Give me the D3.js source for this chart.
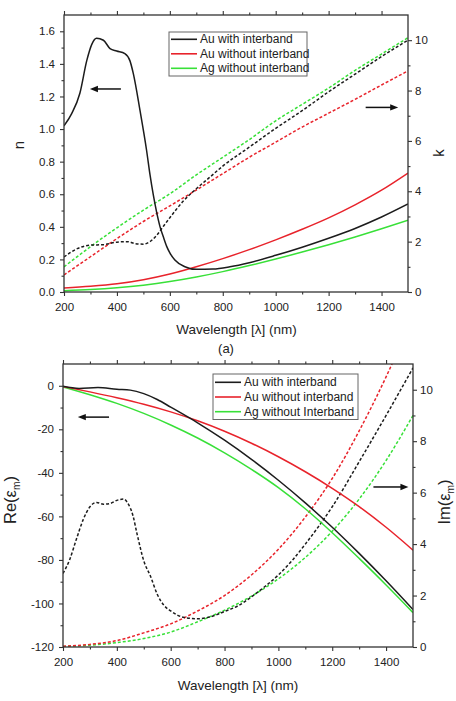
<!DOCTYPE html>
<html><head><meta charset="utf-8">
<script src="https://cdn.jsdelivr.net/npm/d3@7"></script>
<style>
body{margin:0;background:#fff}
svg{display:block}
text{font-family:"Liberation Sans",Arial,sans-serif;fill:#222}
</style>
</head><body>
<svg id="chart" width="456" height="701"></svg>
<script>
// ---------- data ----------
const xDomain = [200, 1500];
const xMajorTicks = [200, 400, 600, 800, 1000, 1200, 1400];
const xMinorTicks = [300, 500, 700, 900, 1100, 1300];
const nTicks = [0, 0.2, 0.4, 0.6, 0.8, 1.0, 1.2, 1.4, 1.6];
const nMinorTicks = [0.1, 0.3, 0.5, 0.7, 0.9, 1.1, 1.3, 1.5];
const kTicks = [0, 2, 4, 6, 8, 10];
const kMinorTicks = [1, 3, 5, 7, 9];
const reTicks = [-120, -100, -80, -60, -40, -20, 0];
const reMinorTicks = [-110, -90, -70, -50, -30, -10];
const imTicks = [0, 2, 4, 6, 8, 10];
const imMinorTicks = [1, 3, 5, 7, 9];
const legendA = ["Au with interband", "Au without interband", "Ag without interband"];
const legendB = ["Au with interband", "Au without interband", "Ag without Interband"];
const xTitle = "Wavelength [\u03bb] (nm)";

// (a) refractive index n (left axis) — solid
const nAuInter = [[200,1.02],[229,1.095],[260,1.22],[286,1.42],[305,1.52],[323,1.557],[349,1.545],[374,1.494],[399,1.479],[430,1.463],[449,1.42],[462,1.34],[487,1.116],[512,0.87],[525,0.72],[537,0.6],[550,0.49],[563,0.40],[575,0.34],[588,0.28],[600,0.24],[619,0.196],[657,0.155],[700,0.139],[763,0.141],[827,0.155],[900,0.18],[1000,0.225],[1100,0.275],[1200,0.33],[1300,0.39],[1400,0.46],[1500,0.54]];
const nAuFree = [[200,0.025],[300,0.035],[400,0.05],[500,0.075],[600,0.11],[700,0.155],[800,0.205],[900,0.26],[1000,0.32],[1100,0.385],[1200,0.455],[1300,0.535],[1400,0.625],[1500,0.73]];
const nAgFree = [[200,0.008],[300,0.015],[400,0.026],[500,0.042],[600,0.064],[700,0.092],[800,0.125],[900,0.162],[1000,0.202],[1100,0.245],[1200,0.29],[1300,0.338],[1400,0.388],[1500,0.44]];
// (a) extinction k (right axis) — dashed
const kAuInter = [[200,1.39],[250,1.72],[300,1.86],[350,1.88],[400,1.98],[440,2.0],[470,1.92],[500,1.9],[525,2.0],[550,2.25],[575,2.6],[600,2.95],[650,3.6],[700,4.1],[750,4.55],[800,5.0],[900,5.75],[1000,6.5],[1100,7.2],[1200,7.95],[1300,8.65],[1400,9.35],[1500,10.0]];
const kAuFree = [[200,0.68],[300,1.4],[400,2.12],[500,2.8],[600,3.42],[700,4.05],[800,4.7],[900,5.35],[1000,5.95],[1100,6.55],[1200,7.1],[1300,7.65],[1400,8.22],[1500,8.78]];
const kAgFree = [[200,1.0],[300,1.8],[400,2.55],[500,3.25],[600,3.9],[700,4.65],[800,5.35],[900,6.05],[1000,6.8],[1100,7.45],[1200,8.1],[1300,8.8],[1400,9.45],[1500,10.1]];
// (b) Re(eps) (left axis) — solid
const reAuInter = [[200,-0.2],[260,-1.2],[330,-0.8],[400,-1.6],[450,-2.0],[500,-3.6],[550,-6.3],[600,-9.8],[700,-17],[800,-25],[900,-33.8],[1000,-43.4],[1100,-53.8],[1200,-65],[1300,-77],[1400,-89.6],[1500,-102.8]];
const reAuFree = [[200,-0.3],[300,-2.8],[400,-5.5],[500,-8.5],[600,-12],[700,-16.1],[800,-20.9],[900,-26.4],[1000,-32.6],[1100,-39.5],[1200,-47.1],[1300,-55.5],[1400,-65],[1500,-75.5]];
const reAgFree = [[200,-0.5],[300,-4.1],[400,-8.1],[500,-12.7],[600,-18],[700,-24],[800,-30.8],[900,-38.4],[1000,-46.8],[1100,-56.5],[1200,-67.5],[1300,-79.3],[1400,-91.5],[1500,-104.2]];
// (b) Im(eps) (right axis) — dashed
const imAuInter = [[200,2.86],[225,3.4],[250,4.2],[275,4.95],[300,5.45],[325,5.62],[350,5.55],[375,5.58],[400,5.7],[425,5.75],[440,5.6],[460,5.1],[475,4.4],[500,3.35],[525,2.75],[550,2.05],[575,1.62],[600,1.4],[650,1.15],[700,1.1],[750,1.18],[800,1.38],[850,1.6],[900,1.95],[950,2.35],[1000,2.8],[1050,3.35],[1100,4.0],[1200,5.45],[1300,7.2],[1400,9.0],[1500,10.85]];
const imAuFree = [[200,0.03],[300,0.1],[400,0.25],[500,0.55],[600,0.9],[700,1.4],[800,2.0],[900,2.8],[1000,3.8],[1100,5.05],[1200,6.55],[1300,8.4],[1400,10.5],[1450,11.65]];
const imAgFree = [[200,0.02],[300,0.07],[400,0.17],[500,0.33],[600,0.58],[700,0.98],[800,1.43],[900,1.98],[1000,2.65],[1100,3.48],[1200,4.5],[1300,5.75],[1400,7.25],[1500,9.0]];

// ---------- style ----------
const C_BLACK = "#1c1c1c", C_RED = "#e8232b", C_GREEN = "#38e038";
const AX = "#333";

const svg = d3.select("#chart");

function drawPanel(p) {
  const x = d3.scaleLinear().domain(xDomain).range([p.x0, p.x1]);
  const yL = d3.scaleLinear().domain(p.leftDomain).range([p.yB, p.yT]);
  const yR = d3.scaleLinear().domain(p.rightDomain).range([p.yB, p.yT]);
  const g = svg.append("g");

  const clipId = "clip-" + p.key;
  svg.append("clipPath").attr("id", clipId).append("rect")
    .attr("x", p.x0).attr("y", p.yT).attr("width", p.x1 - p.x0).attr("height", p.yB - p.yT);

  const lg = g.append("g").attr("clip-path", `url(#${clipId})`);
  p.series.forEach(s => {
    const sc = s.axis === "L" ? yL : yR;
    lg.append("path").datum(s.data)
      .attr("d", d3.line().x(d => x(d[0])).y(d => sc(d[1])).curve(d3.curveMonotoneX))
      .attr("fill", "none").attr("stroke", s.color).attr("stroke-width", 1.5)
      .attr("stroke-dasharray", s.dash ? "3,2" : null);
  });

  function ax(gen, tr, major, minor, fmt, pad) {
    const a = g.append("g").attr("transform", tr)
      .call(gen.tickValues(major).tickSize(4).tickPadding(pad).tickFormat(fmt).tickSizeOuter(0));
    a.select(".domain").remove();
    a.selectAll("line").attr("stroke", AX).attr("stroke-width", 1.1);
    a.selectAll("text").attr("font-size", "11.5px").attr("fill", "#222")
      .attr("font-family", '"Liberation Sans", Arial, sans-serif');
    const b = g.append("g").attr("transform", tr)
      .call(gen.tickValues(minor).tickSize(2.5).tickFormat("").tickSizeOuter(0));
    b.select(".domain").remove();
    b.selectAll("line").attr("stroke", AX).attr("stroke-width", 1.1);
    b.selectAll("text").remove();
  }
  ax(d3.axisBottom(x), `translate(0,${p.yB})`, xMajorTicks, xMinorTicks, d => d, 6.5);
  ax(d3.axisTop(x), `translate(0,${p.yT})`, xMajorTicks, xMinorTicks, () => "", 3);
  ax(d3.axisLeft(yL), `translate(${p.x0},0)`, p.leftTicks, p.leftMinor, p.leftFmt, 5);
  ax(d3.axisRight(yR), `translate(${p.x1},0)`, p.rightTicks, p.rightMinor, d => d, 3);

  g.append("rect").attr("x", p.x0).attr("y", p.yT).attr("width", p.x1 - p.x0).attr("height", p.yB - p.yT)
    .attr("fill", "none").attr("stroke", AX).attr("stroke-width", 1.3);

  g.append("text").attr("x", p.titleX).attr("y", p.titleY).attr("text-anchor", "middle")
    .attr("font-size", "13.5px").text(xTitle);

  const L = p.legend;
  g.append("rect").attr("x", L.x).attr("y", L.y).attr("width", L.w).attr("height", L.h)
    .attr("fill", "#fff").attr("stroke", "#666").attr("stroke-width", 1);
  L.labels.forEach((t, i) => {
    const yy = L.y + L.row0 + i * L.dy;
    g.append("line").attr("x1", L.x + 2).attr("x2", L.x + 28).attr("y1", yy).attr("y2", yy)
      .attr("stroke", [C_BLACK, C_RED, C_GREEN][i]).attr("stroke-width", 1.6);
    g.append("text").attr("x", L.x + 31).attr("y", yy + 4).attr("font-size", "12px").text(t);
  });

  p.arrows.forEach(a => {
    const sc = a.axis === "L" ? yL : yR;
    const xa = x(a.from), xb = x(a.to), yy = sc(a.v);
    const dir = xb > xa ? 1 : -1;
    g.append("line").attr("x1", xa).attr("x2", xb - dir * 5).attr("y1", yy).attr("y2", yy)
      .attr("stroke", "#111").attr("stroke-width", 1.5);
    g.append("path").attr("d", `M${xb},${yy} L${xb - dir * 8},${yy - 3.2} L${xb - dir * 8},${yy + 3.2} Z`)
      .attr("fill", "#111");
  });
}

drawPanel({
  key: "a", x0: 64, x1: 408, yT: 15, yB: 292,
  leftDomain: [0, 1.7], rightDomain: [0, 11],
  leftTicks: nTicks, leftMinor: nMinorTicks, leftFmt: d3.format(".1f"),
  rightTicks: kTicks, rightMinor: kMinorTicks,
  titleX: 236.5, titleY: 334,
  series: [
    {data: kAgFree, axis: "R", color: C_GREEN, dash: true},
    {data: kAuFree, axis: "R", color: C_RED, dash: true},
    {data: kAuInter, axis: "R", color: C_BLACK, dash: true},
    {data: nAgFree, axis: "L", color: C_GREEN},
    {data: nAuFree, axis: "L", color: C_RED},
    {data: nAuInter, axis: "L", color: C_BLACK}
  ],
  legend: {x: 169, y: 32, w: 138, h: 44, row0: 7.3, dy: 14.5, labels: legendA},
  arrows: [
    {from: 415, to: 298, v: 1.246, axis: "L"},
    {from: 1340, to: 1463, v: 7.33, axis: "R"}
  ]
});

drawPanel({
  key: "b", x0: 63, x1: 413, yT: 364, yB: 647,
  leftDomain: [-120, 10], rightDomain: [0, 11],
  leftTicks: reTicks, leftMinor: reMinorTicks, leftFmt: d => String(d),
  rightTicks: imTicks, rightMinor: imMinorTicks,
  titleX: 238, titleY: 690,
  series: [
    {data: imAgFree, axis: "R", color: C_GREEN, dash: true},
    {data: imAuFree, axis: "R", color: C_RED, dash: true},
    {data: imAuInter, axis: "R", color: C_BLACK, dash: true},
    {data: reAgFree, axis: "L", color: C_GREEN},
    {data: reAuFree, axis: "L", color: C_RED},
    {data: reAuInter, axis: "L", color: C_BLACK}
  ],
  legend: {x: 213, y: 374, w: 145, h: 45.5, row0: 8.3, dy: 14.7, labels: legendB},
  arrows: [
    {from: 371, to: 255, v: -14.4, axis: "L"},
    {from: 1353, to: 1483, v: 6.22, axis: "R"}
  ]
});

function rotLabel(x, y, parts, size) {
  const t = svg.append("text").attr("transform", `translate(${x},${y}) rotate(-90)`)
    .attr("text-anchor", "middle").attr("font-size", size + "px");
  parts.forEach(p => {
    const s = t.append("tspan").text(p.t);
    if (p.sub) s.attr("font-size", (size * 0.62) + "px").attr("dy", "0.35em");
    if (p.back) s.attr("dy", "-0.22em");
  });
}
rotLabel(24, 145, [{t: "n"}], 15);
rotLabel(444, 153, [{t: "k"}], 15);
rotLabel(16, 500, [{t: "Re(\u03b5"}, {t: "m", sub: true}, {t: ")", back: true}], 16.5);
rotLabel(450, 502, [{t: "Im(\u03b5"}, {t: "m", sub: true}, {t: ")", back: true}], 16.5);

svg.append("text").attr("x", 226).attr("y", 353).attr("text-anchor", "middle")
  .attr("font-size", "13px").text("(a)");
</script>
</body></html>
